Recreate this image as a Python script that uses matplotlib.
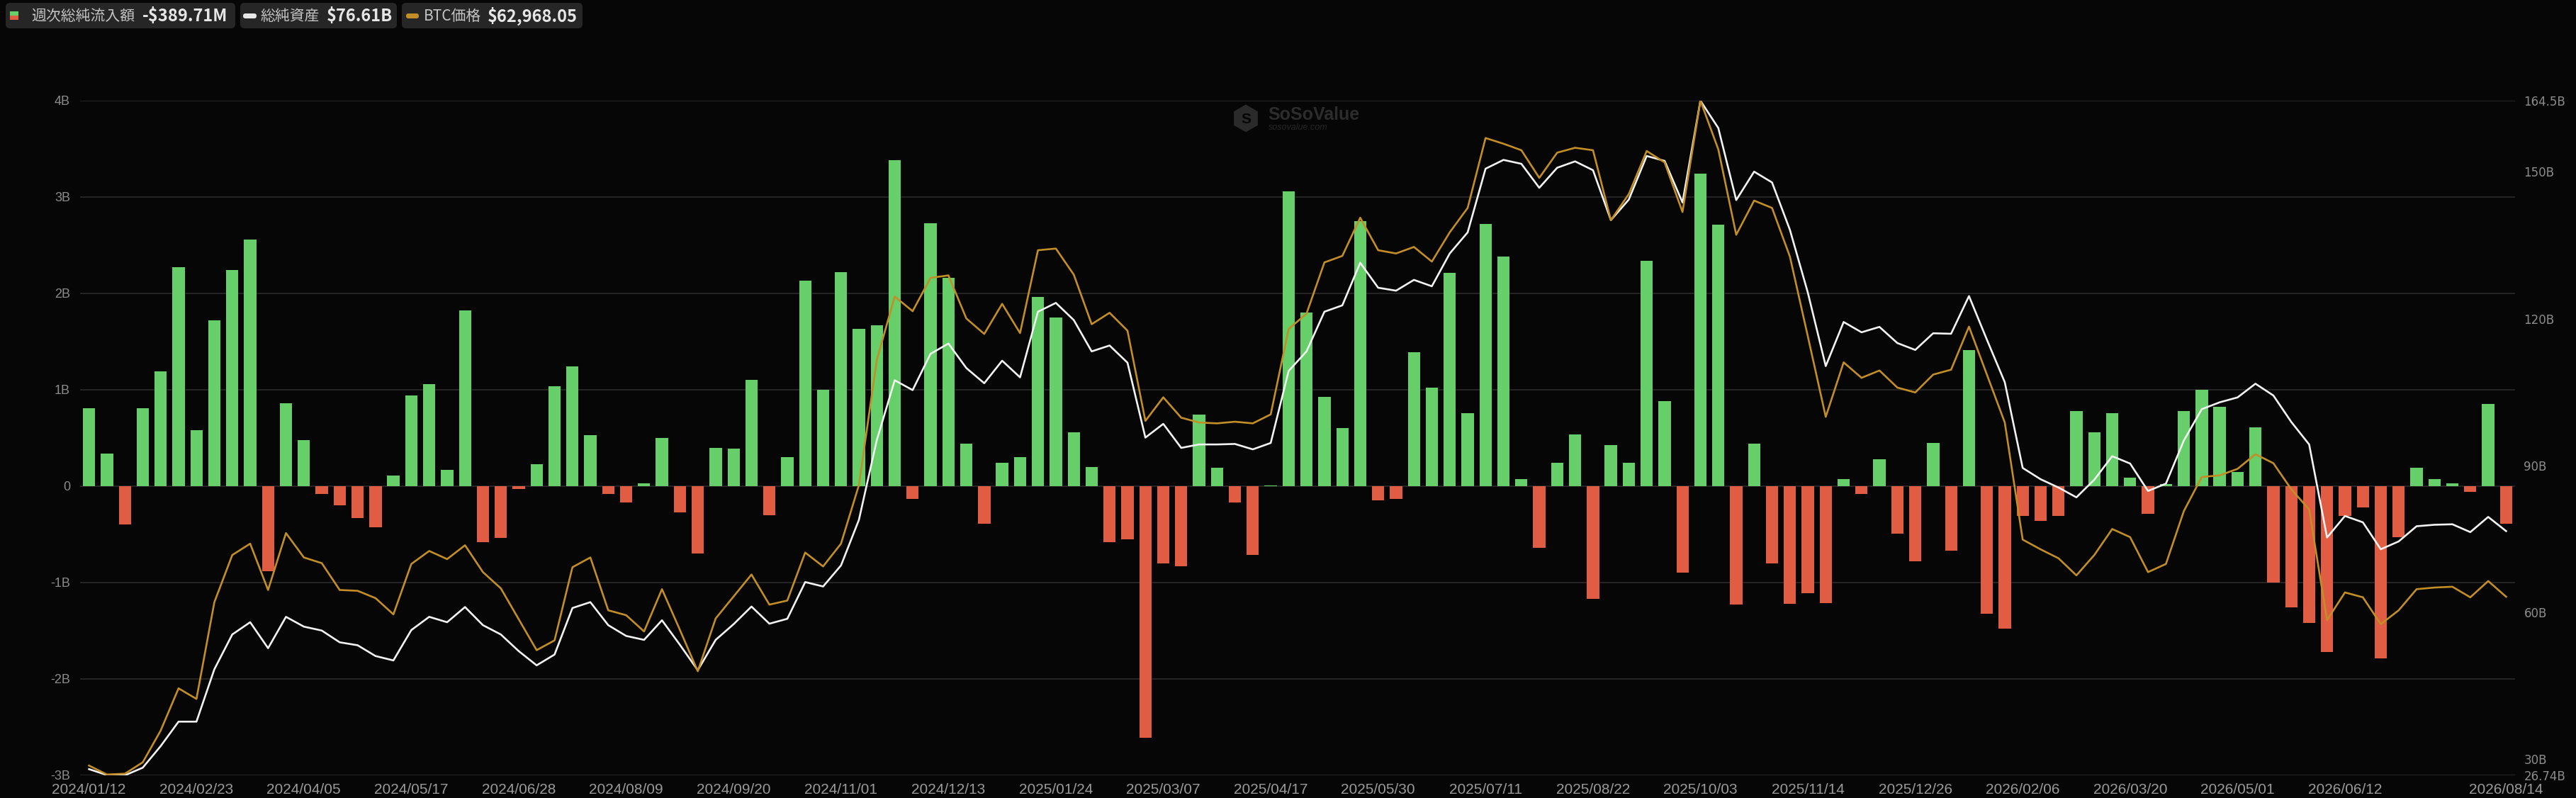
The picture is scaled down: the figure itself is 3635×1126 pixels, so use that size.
import matplotlib
matplotlib.use("Agg")
import matplotlib.pyplot as plt
from matplotlib.patches import FancyBboxPatch, Rectangle, RegularPolygon
import numpy as np

# ---------------- data ----------------
# weekly total net inflow (billion USD)
net_inflow_b = [
    0.81, 0.34, -0.40, 0.81, 1.19, 2.27, 0.58, 1.72, 2.24, 2.56,
    -0.88, 0.86, 0.48, -0.08, -0.20, -0.33, -0.43, 0.11, 0.94, 1.06,
    0.17, 1.82, -0.58, -0.54, -0.03, 0.23, 1.04, 1.24, 0.53, -0.08,
    -0.17, 0.03, 0.50, -0.27, -0.70, 0.40, 0.39, 1.10, -0.30, 0.30,
    2.13, 1.00, 2.22, 1.63, 1.67, 3.38, -0.13, 2.73, 2.16, 0.44,
    -0.39, 0.24, 0.30, 1.96, 1.75, 0.56, 0.20, -0.58, -0.55, -2.61,
    -0.80, -0.83, 0.74, 0.19, -0.17, -0.71, 0.01, 3.06, 1.80, 0.93,
    0.60, 2.75, -0.15, -0.13, 1.39, 1.02, 2.21, 0.76, 2.72, 2.38,
    0.07, -0.64, 0.24, 0.54, -1.17, 0.43, 0.24, 2.34, 0.88, -0.90,
    3.24, 2.71, -1.23, 0.44, -0.80, -1.22, -1.11, -1.21, 0.07, -0.08,
    0.28, -0.49, -0.78, 0.45, -0.67, 1.41, -1.32, -1.48, -0.31, -0.36,
    -0.31, 0.78, 0.56, 0.76, 0.09, -0.29, 0.02, 0.78, 1.00, 0.82,
    0.15, 0.61, -1.00, -1.26, -1.42, -1.72, -0.31, -0.22, -1.79, -0.53,
    0.19, 0.07, 0.03, -0.06, 0.85, -0.38971,
]
# total net assets (billion USD)
net_assets_b = [
    28.0, 26.8, 26.74, 28.3, 32.7, 37.7, 37.7, 48.4, 55.5, 58.0,
    52.7, 59.1, 57.1, 56.3, 53.9, 53.3, 51.1, 50.2, 56.4, 59.1,
    58.0, 61.1, 57.4, 55.5, 52.1, 49.2, 51.4, 60.9, 62.1, 57.4,
    55.2, 54.4, 58.4, 53.4, 48.2, 54.4, 57.6, 61.2, 57.7, 58.7,
    66.2, 65.3, 69.6, 78.9, 95.2, 107.4, 105.4, 112.8, 114.9, 109.9,
    106.8, 111.4, 108.0, 121.4, 123.2, 119.7, 113.3, 114.5, 111.0, 95.7,
    98.5, 93.6, 94.3, 94.3, 94.4, 93.3, 94.6, 109.3, 113.3, 121.4,
    122.7, 131.4, 126.3, 125.7, 127.9, 126.6, 133.3, 137.6, 150.6, 152.4,
    151.6, 146.7, 150.8, 152.1, 150.3, 140.1, 144.3, 153.2, 152.2, 143.7,
    164.5, 158.9, 144.2, 150.0, 147.8, 138.1, 125.3, 110.3, 119.3, 117.2,
    118.3, 115.0, 113.6, 117.0, 116.9, 124.6, 115.7, 107.0, 89.5, 87.2,
    85.5, 83.5, 87.1, 91.9, 90.4, 84.8, 86.3, 95.1, 101.5, 102.9,
    103.9, 106.7, 104.3, 98.9, 94.3, 75.3, 79.7, 78.4, 72.9, 74.5,
    77.6, 77.9, 78.0, 76.4, 79.5, 76.61,
]
# BTC price (thousand USD)
btc_price_k = [
    42.2, 41.1, 41.2, 42.6, 46.5, 51.7, 50.4, 62.3, 68.1, 69.5,
    63.8, 70.8, 67.8, 67.1, 63.8, 63.7, 62.8, 60.8, 67.0, 68.6,
    67.6, 69.3, 66.0, 64.0, 60.2, 56.4, 57.6, 66.6, 67.8, 61.3,
    60.7, 58.7, 63.9, 58.9, 53.8, 60.3, 63.0, 65.7, 62.0, 62.5,
    68.4, 66.7, 69.5, 76.7, 92.1, 99.9, 98.1, 102.2, 102.5, 97.2,
    95.3, 99.0, 95.4, 105.6, 105.8, 102.6, 96.5, 97.9, 95.7, 84.6,
    87.5, 85.0, 84.4, 84.3, 84.5, 84.3, 85.4, 95.9, 97.8, 104.1,
    104.9, 109.6, 105.6, 105.2, 106.0, 104.2, 107.8, 110.8, 119.4, 118.7,
    117.9, 114.5, 117.6, 118.2, 117.9, 109.3, 112.5, 117.8, 116.4, 110.3,
    124.0, 118.0, 107.5, 111.7, 110.8, 104.8, 95.0, 85.1, 91.8, 89.9,
    90.8, 88.7, 88.1, 90.3, 90.9, 96.2, 90.3, 84.4, 70.0, 68.8,
    67.7, 65.6, 68.1, 71.3, 70.3, 66.0, 67.0, 73.5, 77.7, 77.9,
    78.7, 80.5, 79.4, 76.2, 73.7, 60.1, 63.5, 62.9, 59.6, 61.3,
    63.9, 64.1, 64.2, 62.9, 64.9, 62.96805,
]
tick_labels = [
    "2024/01/12", "2024/02/23", "2024/04/05", "2024/05/17", "2024/06/28",
    "2024/08/09", "2024/09/20", "2024/11/01", "2024/12/13", "2025/01/24",
    "2025/03/07", "2025/04/17", "2025/05/30", "2025/07/11", "2025/08/22",
    "2025/10/03", "2025/11/14", "2025/12/26", "2026/02/06", "2026/03/20",
    "2026/05/01", "2026/06/12", "2026/08/14",
]
left_ticks = [-3, -2, -1, 0, 1, 2, 3, 4]
left_tick_labels = ["-3B", "-2B", "-1B", "0", "1B", "2B", "3B", "4B"]
right_ticks = [26.74, 30, 60, 90, 120, 150, 164.5]
right_tick_labels = ["26.74B", "30B", "60B", "90B", "120B", "150B", "164.5B"]

# ---------------- style ----------------
W, H = 3635, 1126
BG = "#060606"
GREEN = "#66cf6a"
RED = "#e05d44"
GOLD = "#c28e25"
WHITE = "#f2f2f2"
GRID = "#2e2e2e"
TICK = "#8c8c8c"

fig = plt.figure(figsize=(W / 100, H / 100), dpi=100, facecolor=BG)
L, R, T, B = 113, 3549, 142, 1094
ax = fig.add_axes([L / W, 1 - B / H, (R - L) / W, (B - T) / H])
ax.set_facecolor(BG)

n = len(net_inflow_b)
x = np.arange(n)
colors = [GREEN if v >= 0 else RED for v in net_inflow_b]
ax.bar(x, net_inflow_b, width=0.685, color=colors, zorder=2, linewidth=0)
ax.set_xlim(-0.5, n - 0.5)
ax.set_ylim(-3, 4)
ax.set_yticks(left_ticks)
ax.set_yticklabels(left_tick_labels, fontsize=13, color=TICK, family="Liberation Sans")
ax.yaxis.grid(True, color=GRID, linewidth=1.1, zorder=0)
ax.set_axisbelow(True)
tick_pos = list(range(0, 127, 6)) + [n - 1]
ax.set_xticks(tick_pos)
ax.set_xticklabels(tick_labels, fontsize=15, color="#9a9a9a", family="Liberation Sans")
ax.tick_params(axis="y", length=0, pad=10)
ax.tick_params(axis="x", length=0, pad=8)
for s in ax.spines.values():
    s.set_visible(False)

ax2 = ax.twinx()
ax2.plot(x, net_assets_b, color=WHITE, linewidth=1.9, zorder=3, solid_joinstyle="round")
ax2.set_ylim(26.74, 164.5)
ax2.set_yticks(right_ticks)
ax2.set_yticklabels(right_tick_labels, fontsize=12, color=TICK, family="DejaVu Sans")
ax2.tick_params(axis="y", length=0, pad=9)
for s in ax2.spines.values():
    s.set_visible(False)

ax3 = ax.twinx()
ax3.plot(x, btc_price_k, color=GOLD, linewidth=1.9, zorder=4, solid_joinstyle="round")
ax3.set_ylim(41, 124)
ax3.axis("off")

# ---------------- overlay: legend boxes + watermark ----------------
ov = fig.add_axes([0, 0, 1, 1], zorder=10)
ov.set_xlim(0, W)
ov.set_ylim(H, 0)
ov.axis("off")
ov.patch.set_alpha(0)

CJK = ["Noto Sans CJK JP", "DejaVu Sans"]
boxes = [(8, 332), (339, 560), (567, 822)]
for x0, x1 in boxes:
    ov.add_patch(FancyBboxPatch((x0, 4), x1 - x0, 36,
                                boxstyle="round,pad=0,rounding_size=6",
                                fc="#262626", ec="none"))
# icons
ov.add_patch(Rectangle((14, 16), 12, 6, fc=GREEN, ec="none"))
ov.add_patch(Rectangle((14, 22), 12, 6, fc=RED, ec="none"))
ov.add_patch(FancyBboxPatch((343, 19), 19, 7, boxstyle="round,pad=0,rounding_size=3.4",
                            fc="#e8e8e8", ec="none"))
ov.add_patch(FancyBboxPatch((573, 19), 18, 7, boxstyle="round,pad=0,rounding_size=3.4",
                            fc=GOLD, ec="none"))

last_flow = net_inflow_b[-1] * 1000
flow_txt = ("-" if last_flow < 0 else "") + "${:,.2f}M".format(abs(last_flow))
assets_txt = "${:,.2f}B".format(net_assets_b[-1])
btc_txt = "${:,.2f}".format(btc_price_k[-1] * 1000)

LBL = "#c4c4c4"
VAL = "#e6e6e6"
ty = 23
ov.text(44, ty, "週次総純流入額", fontsize=15, color=LBL, va="center", family=CJK)
ov.text(201, ty, flow_txt, fontsize=17, color=VAL, va="center", weight="bold", family=CJK)
ov.text(367, ty, "総純資産", fontsize=15, color=LBL, va="center", family=CJK)
ov.text(461, ty, assets_txt, fontsize=17, color=VAL, va="center", weight="bold", family=CJK)
ov.text(598, ty, "BTC価格", fontsize=15, color=LBL, va="center", family=CJK)
ov.text(688, ty, btc_txt, fontsize=17, color=VAL, va="center", weight="bold", family=CJK)

# watermark
ov.add_patch(RegularPolygon((1758, 167), numVertices=6, radius=19.5, orientation=0,
                            fc="#2a2a2a", ec="none"))
ov.text(1758, 168, "S", fontsize=15, color=BG, weight="bold",
        va="center", ha="center", family="Liberation Sans")
ov.text(1789, 162, "SoSoValue", fontsize=18, color="#2c2c2c", weight="bold",
        va="center", ha="left", family="Liberation Sans")
ov.text(1790, 180, "sosovalue.com", fontsize=9, color="#262626", style="italic",
        va="center", ha="left", family="Liberation Sans")

fig.savefig("out.png", dpi=100, facecolor=BG)
